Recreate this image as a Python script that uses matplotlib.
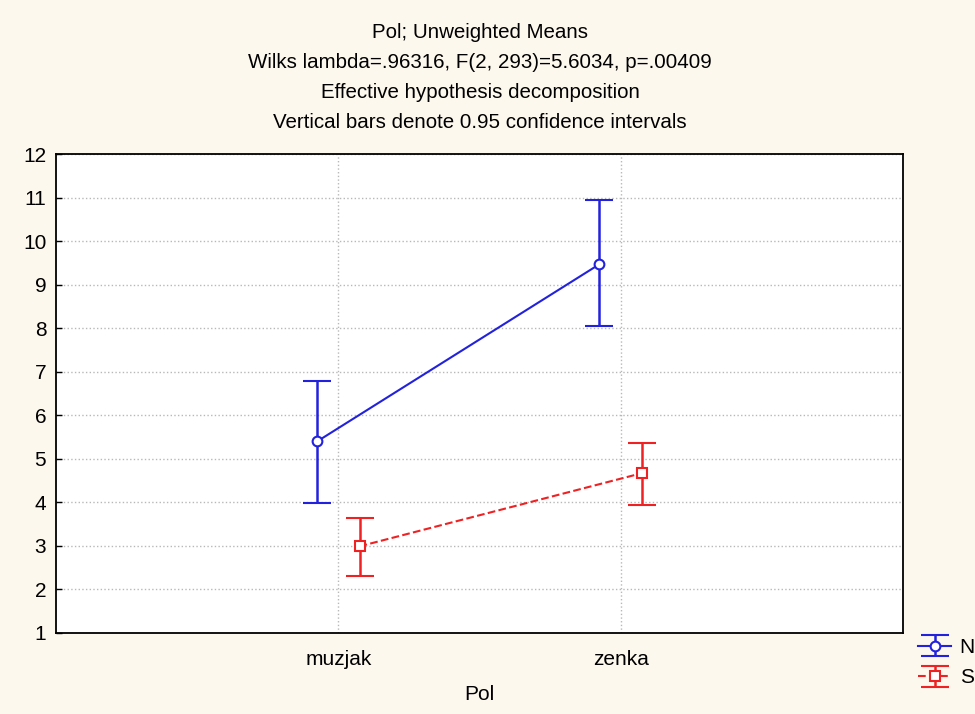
import numpy as np
import matplotlib.pyplot as plt

plt.rcParams['font.family'] = ['Liberation Sans', 'DejaVu Sans']

# data
categories = ['muzjak', 'zenka']
n_mean = [5.40, 9.47]
n_low = [3.98, 8.05]
n_high = [6.78, 10.94]
s_mean = [2.99, 4.67]
s_low = [2.32, 3.93]
s_high = [3.63, 5.36]

bg = '#fdf8ee'
fig = plt.figure(figsize=(9.75, 7.14), dpi=100, facecolor=bg)
ax = fig.add_axes([56 / 975, 1 - 633 / 714, 847 / 975, 479 / 714])
ax.set_facecolor('white')

x = np.arange(1, len(categories) + 1)
off = 0.075

n_err = [np.array(n_mean) - np.array(n_low), np.array(n_high) - np.array(n_mean)]
s_err = [np.array(s_mean) - np.array(s_low), np.array(s_high) - np.array(s_mean)]

h1 = ax.errorbar(x - off, n_mean, yerr=n_err, color='#2222dd', lw=1.5, elinewidth=1.8,
                 capsize=10, capthick=1.8, marker='o', ms=7, mfc='white', mec='#2222dd',
                 mew=1.5, label='N', zorder=3)
h2 = ax.errorbar(x + off, s_mean, yerr=s_err, color='#ee2222', lw=1.5, ls='--',
                 elinewidth=1.8, capsize=10, capthick=1.8, marker='s', ms=7, mfc='white',
                 mec='#ee2222', mew=1.5, label='S', zorder=3)

ax.set_xlim(0, 3)
ax.set_ylim(1, 12)
ax.set_yticks(range(1, 13))
ax.set_xticks(x)
ax.set_xticklabels(categories)
ax.grid(True, color='#b8b8b8', ls=':', lw=1)
ax.tick_params(direction='in', length=4, labelsize=15, width=1, pad=7)
ax.tick_params(axis='x', length=0, pad=12)
for sp in ax.spines.values():
    sp.set_linewidth(1.3)
ax.set_xlabel('Pol', fontsize=15, labelpad=12)

titles = ['Pol; Unweighted Means',
          'Wilks lambda=.96316, F(2, 293)=5.6034, p=.00409',
          'Effective hypothesis decomposition',
          'Vertical bars denote 0.95 confidence intervals']
for i, t in enumerate(titles):
    fig.text(480 / 975, 1 - (33 + i * 30) / 714, t, ha='center', va='center', fontsize=14.8)

fig.legend(handles=[h1, h2], labels=['N', 'S'], loc='upper left',
           bbox_to_anchor=(918 / 975, 1 - 638 / 714), frameon=False, fontsize=15,
           borderpad=0, borderaxespad=0, handlelength=1.6, handletextpad=0.4,
           labelspacing=0.55)

fig.savefig('out.png', dpi=100, facecolor=bg)
